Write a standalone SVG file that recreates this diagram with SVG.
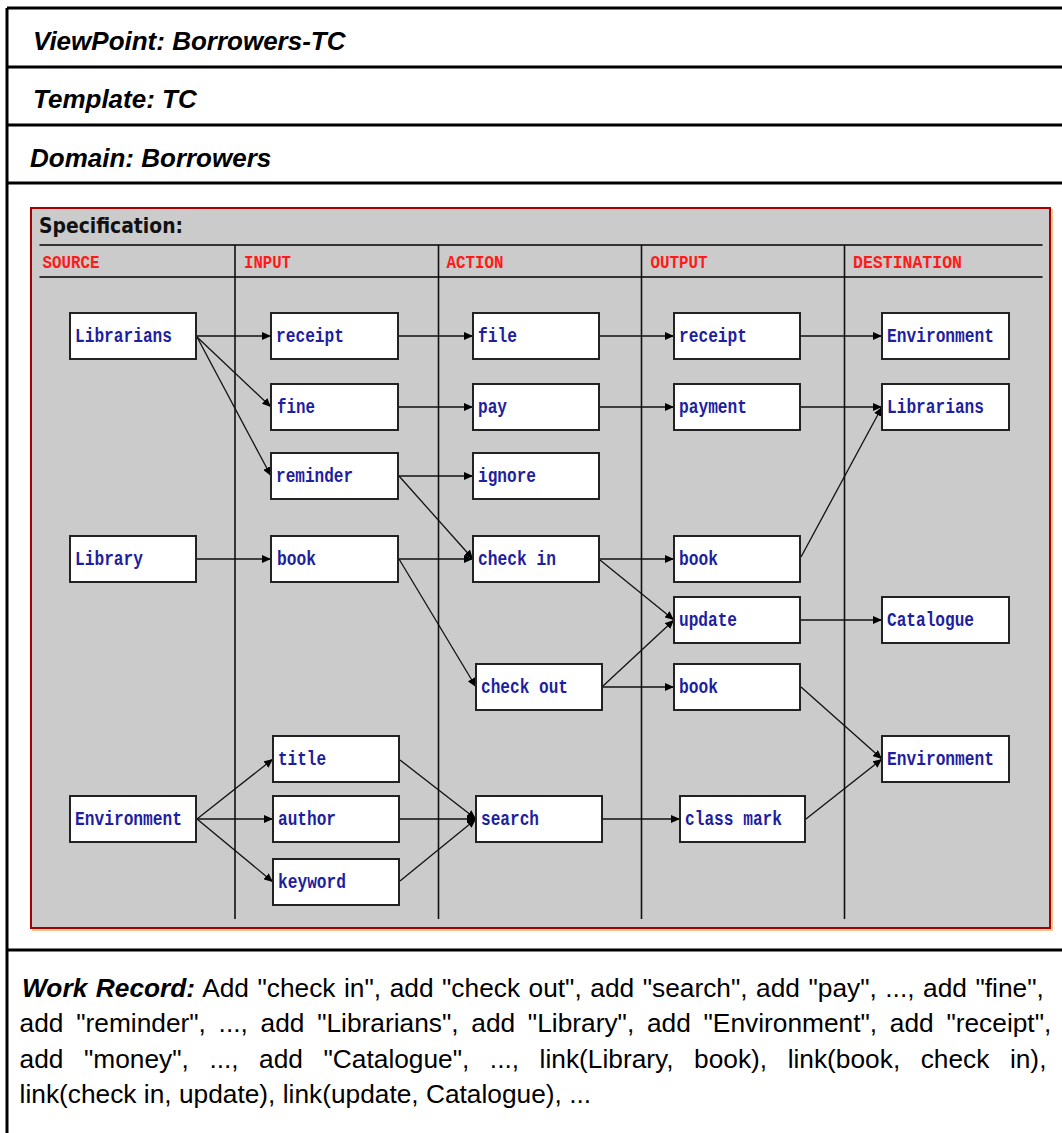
<svg xmlns="http://www.w3.org/2000/svg" width="1062" height="1133" viewBox="0 0 1062 1133">
<style>
.hdr{font-family:"Liberation Sans",Arial,sans-serif;font-size:26px;font-weight:bold;font-style:italic;fill:#000}
.rule{stroke:#000;stroke-width:3}
.wr{font-family:"Liberation Sans",Arial,sans-serif;font-size:26.3px;fill:#000}
.wrb{font-weight:bold;font-style:italic}
.col{font-family:"Liberation Mono","Courier New",monospace;font-size:19px;font-weight:bold;fill:#ff1a1a}
.spec{font-family:"DejaVu Sans Condensed","DejaVu Sans","Liberation Sans",sans-serif;font-size:21px;font-weight:bold;fill:#111}
.box{fill:#fff;stroke:#222;stroke-width:2}
.lbl{font-family:"Liberation Mono","Courier New",monospace;font-size:20px;font-weight:bold;fill:#1e1ea0}
.sep{stroke:#111;stroke-width:1.6}
.hl{stroke:#333;stroke-width:2.2}
.c{fill:none;stroke:#111;stroke-width:1.3;marker-end:url(#ah)}
</style>
<defs>
<marker id="ah" markerUnits="userSpaceOnUse" markerWidth="9" markerHeight="8" refX="9" refY="4" orient="auto">
<path d="M0,0 L9,4 L0,8 z" fill="#000"/>
</marker>
</defs>
<rect x="0" y="0" width="1062" height="1133" fill="#fff"/>
<g id="frame">
<line class="rule" x1="7" y1="8" x2="1062" y2="8"/>
<line class="rule" x1="7" y1="8" x2="7" y2="1133"/>
<line class="rule" x1="7" y1="67" x2="1062" y2="67"/>
<line class="rule" x1="7" y1="125" x2="1062" y2="125"/>
<line class="rule" x1="7" y1="183" x2="1062" y2="183"/>
<line class="rule" x1="7" y1="950" x2="1062" y2="950"/>
<text class="hdr" x="33" y="50">ViewPoint: Borrowers-TC</text>
<text class="hdr" x="33" y="108">Template: TC</text>
<text class="hdr" x="30" y="167">Domain: Borrowers</text>
</g>
<g id="spec-panel">
<rect x="32" y="209" width="1021" height="722" fill="#ffc890"/>
<rect x="31" y="208" width="1019" height="720" fill="#cbcbcb" stroke="#a80000" stroke-width="2"/>
<text class="spec" x="39" y="233" textLength="144" lengthAdjust="spacingAndGlyphs">Specification:</text>
<line class="hl" x1="39.5" y1="245" x2="1042.5" y2="245"/>
<line class="hl" x1="39.5" y1="277" x2="1042.5" y2="277"/>
<line class="sep" x1="235" y1="245" x2="235" y2="919"/>
<line class="sep" x1="438.5" y1="245" x2="438.5" y2="919"/>
<line class="sep" x1="641.5" y1="245" x2="641.5" y2="919"/>
<line class="sep" x1="844.5" y1="245" x2="844.5" y2="919"/>
<text class="col" x="42.5" y="268" textLength="57" lengthAdjust="spacingAndGlyphs">SOURCE</text>
<text class="col" x="244" y="268" textLength="47" lengthAdjust="spacingAndGlyphs">INPUT</text>
<text class="col" x="446.5" y="268" textLength="57" lengthAdjust="spacingAndGlyphs">ACTION</text>
<text class="col" x="650.5" y="268" textLength="57" lengthAdjust="spacingAndGlyphs">OUTPUT</text>
<text class="col" x="853" y="268" textLength="109" lengthAdjust="spacingAndGlyphs">DESTINATION</text>
</g>
<g id="connectors">
<line class="c" x1="196" y1="336" x2="271" y2="336"/>
<line class="c" x1="197" y1="337" x2="271" y2="407"/>
<line class="c" x1="197" y1="337" x2="271" y2="476"/>
<line class="c" x1="196" y1="559" x2="271" y2="559"/>
<line class="c" x1="398" y1="336" x2="473" y2="336"/>
<line class="c" x1="398" y1="407" x2="473" y2="407"/>
<line class="c" x1="398" y1="476" x2="473" y2="476"/>
<line class="c" x1="399" y1="476" x2="473" y2="559"/>
<line class="c" x1="398" y1="559" x2="473" y2="559"/>
<line class="c" x1="399" y1="559" x2="476" y2="687"/>
<line class="c" x1="599" y1="336" x2="674" y2="336"/>
<line class="c" x1="599" y1="407" x2="674" y2="407"/>
<line class="c" x1="599" y1="559" x2="674" y2="559"/>
<line class="c" x1="600" y1="560" x2="674" y2="620"/>
<line class="c" x1="603" y1="686" x2="674" y2="620"/>
<line class="c" x1="602" y1="687" x2="674" y2="687"/>
<line class="c" x1="800" y1="336" x2="882" y2="336"/>
<line class="c" x1="800" y1="407" x2="882" y2="407"/>
<line class="c" x1="801" y1="557" x2="882" y2="407"/>
<line class="c" x1="800" y1="620" x2="882" y2="620"/>
<line class="c" x1="801" y1="687" x2="882" y2="759"/>
<line class="c" x1="806" y1="819" x2="882" y2="759"/>
<line class="c" x1="197" y1="819" x2="273" y2="759"/>
<line class="c" x1="196" y1="819" x2="273" y2="819"/>
<line class="c" x1="197" y1="819" x2="273" y2="882"/>
<line class="c" x1="400" y1="760" x2="476" y2="819"/>
<line class="c" x1="399" y1="819" x2="476" y2="819"/>
<line class="c" x1="400" y1="881" x2="476" y2="819"/>
<line class="c" x1="602" y1="819" x2="680" y2="819"/>
</g>
<g id="src-librarians"><rect class="box" x="70" y="313" width="126" height="46"/><text class="lbl" x="75" y="342" textLength="97" lengthAdjust="spacingAndGlyphs">Librarians</text></g>
<g id="src-library"><rect class="box" x="70" y="536" width="126" height="46"/><text class="lbl" x="75" y="565" textLength="68" lengthAdjust="spacingAndGlyphs">Library</text></g>
<g id="src-environment"><rect class="box" x="70" y="796" width="126" height="46"/><text class="lbl" x="75" y="825" textLength="107" lengthAdjust="spacingAndGlyphs">Environment</text></g>
<g id="in-receipt"><rect class="box" x="271" y="313" width="127" height="46"/><text class="lbl" x="276" y="342" textLength="68" lengthAdjust="spacingAndGlyphs">receipt</text></g>
<g id="in-fine"><rect class="box" x="271" y="384" width="127" height="46"/><text class="lbl" x="277" y="413" textLength="38" lengthAdjust="spacingAndGlyphs">fine</text></g>
<g id="in-reminder"><rect class="box" x="271" y="453" width="127" height="46"/><text class="lbl" x="276" y="482" textLength="77" lengthAdjust="spacingAndGlyphs">reminder</text></g>
<g id="in-book"><rect class="box" x="271" y="536" width="127" height="46"/><text class="lbl" x="277" y="565" textLength="39" lengthAdjust="spacingAndGlyphs">book</text></g>
<g id="in-title"><rect class="box" x="273" y="736" width="126" height="46"/><text class="lbl" x="278" y="765" textLength="48" lengthAdjust="spacingAndGlyphs">title</text></g>
<g id="in-author"><rect class="box" x="273" y="796" width="126" height="46"/><text class="lbl" x="278" y="825" textLength="58" lengthAdjust="spacingAndGlyphs">author</text></g>
<g id="in-keyword"><rect class="box" x="273" y="859" width="126" height="46"/><text class="lbl" x="278" y="888" textLength="68" lengthAdjust="spacingAndGlyphs">keyword</text></g>
<g id="act-file"><rect class="box" x="473" y="313" width="126" height="46"/><text class="lbl" x="478" y="342" textLength="39" lengthAdjust="spacingAndGlyphs">file</text></g>
<g id="act-pay"><rect class="box" x="473" y="384" width="126" height="46"/><text class="lbl" x="478" y="413" textLength="29" lengthAdjust="spacingAndGlyphs">pay</text></g>
<g id="act-ignore"><rect class="box" x="473" y="453" width="126" height="46"/><text class="lbl" x="478" y="482" textLength="58" lengthAdjust="spacingAndGlyphs">ignore</text></g>
<g id="act-checkin"><rect class="box" x="473" y="536" width="126" height="46"/><text class="lbl" x="478" y="565" textLength="78" lengthAdjust="spacingAndGlyphs">check in</text></g>
<g id="act-checkout"><rect class="box" x="476" y="664" width="126" height="46"/><text class="lbl" x="481" y="693" textLength="87" lengthAdjust="spacingAndGlyphs">check out</text></g>
<g id="act-search"><rect class="box" x="476" y="796" width="126" height="46"/><text class="lbl" x="481" y="825" textLength="58" lengthAdjust="spacingAndGlyphs">search</text></g>
<g id="out-receipt"><rect class="box" x="674" y="313" width="126" height="46"/><text class="lbl" x="679" y="342" textLength="68" lengthAdjust="spacingAndGlyphs">receipt</text></g>
<g id="out-payment"><rect class="box" x="674" y="384" width="126" height="46"/><text class="lbl" x="679" y="413" textLength="68" lengthAdjust="spacingAndGlyphs">payment</text></g>
<g id="out-book-1"><rect class="box" x="674" y="536" width="126" height="46"/><text class="lbl" x="679" y="565" textLength="39" lengthAdjust="spacingAndGlyphs">book</text></g>
<g id="out-update"><rect class="box" x="674" y="597" width="126" height="46"/><text class="lbl" x="679" y="626" textLength="58" lengthAdjust="spacingAndGlyphs">update</text></g>
<g id="out-book-2"><rect class="box" x="674" y="664" width="126" height="46"/><text class="lbl" x="679" y="693" textLength="39" lengthAdjust="spacingAndGlyphs">book</text></g>
<g id="out-classmark"><rect class="box" x="680" y="796" width="125" height="46"/><text class="lbl" x="685" y="825" textLength="97" lengthAdjust="spacingAndGlyphs">class mark</text></g>
<g id="dst-environment-1"><rect class="box" x="882" y="313" width="127" height="46"/><text class="lbl" x="887" y="342" textLength="107" lengthAdjust="spacingAndGlyphs">Environment</text></g>
<g id="dst-librarians"><rect class="box" x="882" y="384" width="127" height="46"/><text class="lbl" x="887" y="413" textLength="97" lengthAdjust="spacingAndGlyphs">Librarians</text></g>
<g id="dst-catalogue"><rect class="box" x="882" y="597" width="127" height="46"/><text class="lbl" x="887" y="626" textLength="87" lengthAdjust="spacingAndGlyphs">Catalogue</text></g>
<g id="dst-environment-2"><rect class="box" x="882" y="736" width="127" height="46"/><text class="lbl" x="887" y="765" textLength="107" lengthAdjust="spacingAndGlyphs">Environment</text></g>
<g id="work-record">
<text class="wr" x="22" y="997" word-spacing="1.2"><tspan class="wrb">Work Record:</tspan> Add "check in", add "check out", add "search", add "pay", ..., add "fine",</text>
<text class="wr" x="19.6" y="1032" word-spacing="5.4">add "reminder", ..., add "Librarians", add "Library", add "Environment", add "receipt",</text>
<text class="wr" x="19.6" y="1068" word-spacing="13.2">add "money", ..., add "Catalogue", ..., link(Library, book), link(book, check in),</text>
<text class="wr" x="19.6" y="1103">link(check in, update), link(update, Catalogue), ...</text>
</g>
</svg>
